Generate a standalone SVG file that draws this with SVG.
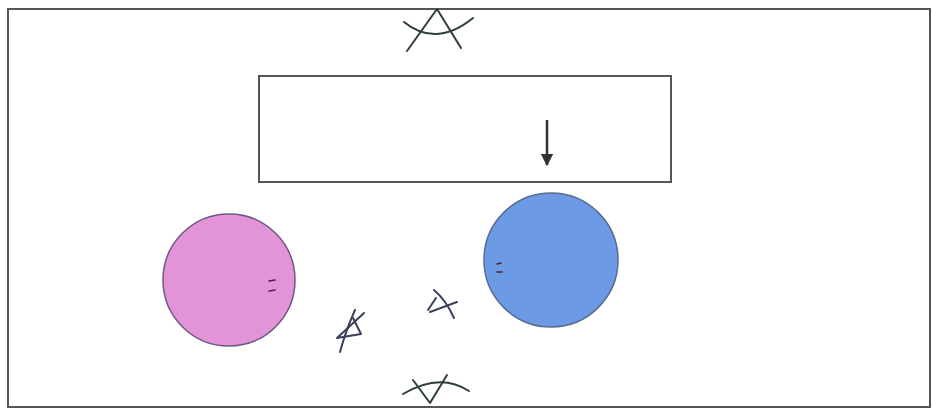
<svg xmlns="http://www.w3.org/2000/svg" width="932" height="409" viewBox="0 0 932 409">
<defs>
<style>
.frame{fill:none;stroke:#555;stroke-width:2}
.mark{fill:none;stroke:#2e3f38;stroke-width:2;stroke-linecap:round;stroke-linejoin:round}
.sym{fill:none;stroke:#3a3f5a;stroke-width:2;stroke-linecap:round;stroke-linejoin:round}
.tick{stroke:#4a2040;stroke-width:1.6;stroke-linecap:round}
</style>
<marker id="ah" viewBox="0 0 10 10" refX="9" refY="5" markerWidth="5" markerHeight="5" orient="auto">
<path d="M0,0 L10,5 L0,10 z" fill="#333"/>
</marker>
</defs>
<rect width="932" height="409" fill="#fff"/>
<rect id="border" class="frame" x="8" y="9" width="922" height="398"/>
<g id="box">
<rect class="frame" x="259" y="76" width="412" height="106"/>
</g>
<g id="top-symbol">
<path class="mark" d="M404,22 Q436,48 473,18"/>
<path class="mark" d="M407,51 L437,9 L461,48"/>
</g>
<g id="bottom-symbol">
<path class="mark" d="M403,394 Q440,372 469,391"/>
<path class="mark" d="M413,380 L430,403 L447,375"/>
</g>
<g id="pink-circle">
<circle cx="229" cy="280" r="66" fill="#e394d8" stroke="#6b5a80" stroke-width="1.5"/>
<line class="tick" x1="269" y1="281" x2="275" y2="280"/>
<line class="tick" x1="269" y1="291" x2="275" y2="290"/>
</g>
<g id="blue-circle">
<circle cx="551" cy="260" r="67" fill="#6c9ae4" stroke="#5a6a90" stroke-width="1.5"/>
<line class="tick" x1="497" y1="264" x2="501" y2="263" stroke="#1a2a60"/>
<line class="tick" x1="497" y1="272" x2="502" y2="272" stroke="#1a2a60"/>
</g>
<g id="left-symbol">
<path class="sym" d="M340,352 Q346,330 355,310"/>
<path class="sym" d="M364,313 L337,338 L361,334 L353,318"/>
</g>
<g id="right-symbol">
<path class="sym" d="M434,290 Q446,300 454,318"/>
<path class="sym" d="M430,312 L457,302"/>
<path class="sym" d="M428,310 L436,298"/>
</g>
<g id="connectors">
<line x1="547" y1="120" x2="547" y2="165" stroke="#333" stroke-width="2.5" marker-end="url(#ah)"/>
</g>
</svg>
